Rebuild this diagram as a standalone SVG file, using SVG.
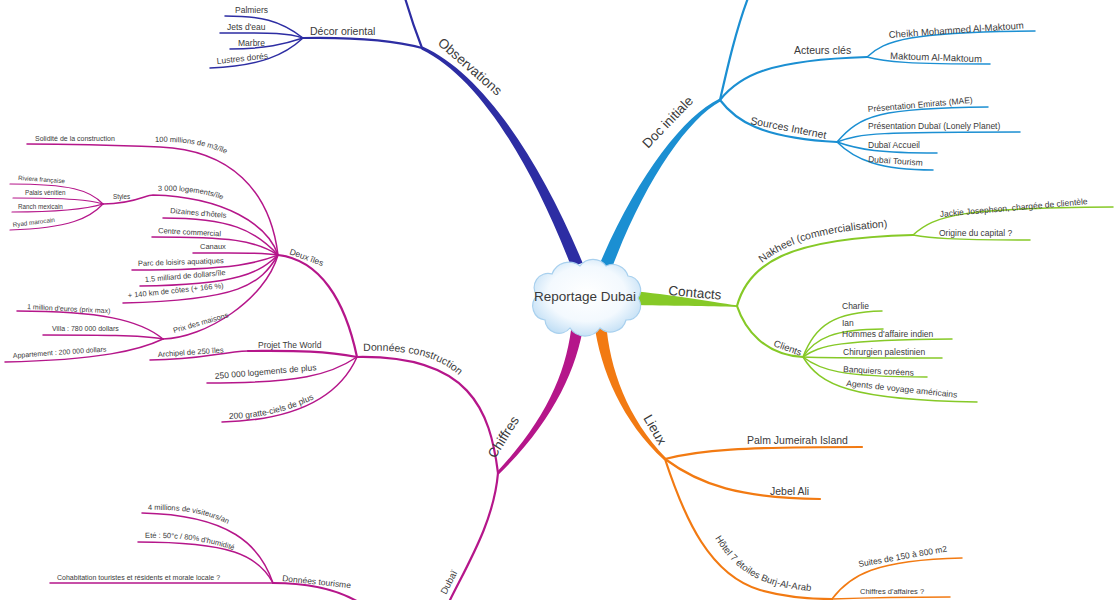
<svg xmlns="http://www.w3.org/2000/svg" xmlns:xlink="http://www.w3.org/1999/xlink" width="1120" height="600" viewBox="0 0 1120 600">
<style>
.ln{fill:none;stroke-linecap:round}
.obs{stroke:#2d2da3}.doc{stroke:#1b8fd2}.con{stroke:#86c927}.lie{stroke:#f27a12}.chi{stroke:#b5168a}
.w2{stroke-width:2.2}.w1{stroke-width:1.5}.w0{stroke-width:1.2}
text{font-family:"Liberation Sans",Arial,sans-serif;fill:#3a3a3a}
.f13{font-size:13.5px}.f11{font-size:10.5px}.f10{font-size:9.5px}.f9{font-size:8.5px}.f8{font-size:7.5px}.f7{font-size:7px}.f6{font-size:6.3px}
</style>
<defs>
<radialGradient id="cloudg" cx="50%" cy="45%" r="60%">
<stop offset="0" stop-color="#ffffff"/>
<stop offset="0.6" stop-color="#f3f9fe"/>
<stop offset="1" stop-color="#bcdcf4"/>
</radialGradient>
<path id="tp-nak" d="M 762,263 C 790,240 830,229 912,226"/>
<path id="tp-hot" d="M 715,538 C 731,565 753,583 793,589 C 808,591 818,592 831,592"/>
<path id="tp-dc" d="M 363,351 C 420,349 450,360 472,390"/>
<path id="tp-200" d="M 229,419 C 260,418 290,412 322,395"/>
<path id="tp-100" d="M 155,142 C 185,141 210,145 237,159"/>
<path id="tp-3000" d="M 158,191 C 185,190 210,193 233,204"/>
<path id="tp-4m" d="M 148,510 C 185,509 210,514 236,528"/>
<path id="tp-ete" d="M 145,538 C 180,537 210,541 241,553"/>
</defs>
<rect width="1120" height="600" fill="#ffffff"/>

<g id="connectors">
<path fill="#2d2da3" d="M 421.4,49.4 C 478.25,76.8 531,162 571.4,267.2 L 582.6,262.8 C 539,158 481.75,73.2 422.6,46.6 Z"/>
<path fill="#1b8fd2" d="M 719.3,98.7 C 683.2,116.2 636,177.9 599,265.6 L 611,270.4 C 644,182.1 686.8,119.8 720.7,101.3 Z"/>
<path fill="#86c927" d="M 630,291 C 670,294 710,302 737,305.3 L 737,307 C 710,306 670,306 630,305 Z"/>
<path fill="#f27a12" d="M 594,322.6 C 600.6,371.1 622.5,421.7 664,460.1 L 666,457.9 C 627.5,418.3 609.4,368.9 606,321.4 Z"/>
<path fill="#b5168a" d="M 572,321.3 C 567.7,368.8 547.6,418.3 496.9,471.9 L 499.1,474.1 C 552.4,421.8 576.3,371.2 584,322.7 Z"/>

<path class="ln obs w2" d="M 422,48 C 415,30 410,15 405,-2"/>
<path class="ln obs w2" d="M 422,48 C 400,42 360,37 303,38"/>
<path class="ln obs w1" d="M 303,38 C 280,20 260,16 225,16"/>
<path class="ln obs w1" d="M 303,38 C 285,32 265,33 220,33"/>
<path class="ln obs w1" d="M 303,38 C 285,44 265,49 230,49"/>
<path class="ln obs w1" d="M 303,38 C 285,55 260,66 210,68"/>

<path class="ln doc w2" d="M 720,100 C 728,65 736,30 748,-2"/>
<path class="ln doc w2" d="M 720,100 C 740,75 770,60 867,57"/>
<path class="ln doc w1" d="M 867,57 C 885,40 910,32 1035,31"/>
<path class="ln doc w1" d="M 867,57 C 885,62 910,64 990,64"/>
<path class="ln doc w2" d="M 720,100 C 735,120 760,138 837,142"/>
<path class="ln doc w1" d="M 837,142 C 860,115 880,108 988,107"/>
<path class="ln doc w1" d="M 837,142 C 860,133 880,132 1020,132"/>
<path class="ln doc w1" d="M 837,142 C 860,150 880,153 937,153"/>
<path class="ln doc w1" d="M 837,142 C 855,160 880,170 933,170"/>

<path class="ln con w2" d="M 737,306 C 748,265 785,238 913,235"/>
<path class="ln con w1" d="M 913,235 C 935,215 960,208 1113,207"/>
<path class="ln con w1" d="M 913,235 C 930,238 950,240 1030,240"/>
<path class="ln con w2" d="M 737,306 C 745,330 765,355 803,357"/>
<path class="ln con w1" d="M 803,357 C 815,325 835,312 882,311"/>
<path class="ln con w1" d="M 803,357 C 815,338 835,329 883,329"/>
<path class="ln con w1" d="M 803,357 C 820,345 840,340 952,339"/>
<path class="ln con w1" d="M 803,357 C 820,358 840,358 942,358"/>
<path class="ln con w1" d="M 803,357 C 820,370 840,377 927,377"/>
<path class="ln con w1" d="M 803,357 C 820,385 850,400 977,402"/>

<path class="ln lie w2" d="M 665,459 C 700,450 740,447 862,447"/>
<path class="ln lie w2" d="M 665,459 C 700,485 740,498 820,499"/>
<path class="ln lie w2" d="M 665,459 C 685,520 710,575 760,590 C 785,597 805,599 832,599"/>
<path class="ln lie w1" d="M 832,599 C 850,575 875,560 962,558"/>
<path class="ln lie w1" d="M 832,599 C 860,598 900,597 950,597"/>

<path class="ln chi w2" d="M 498,473 C 494,520 470,560 450,600"/>
<path class="ln chi w2" d="M 498,473 C 490,410 470,355 357,357"/>
<path class="ln chi w2" d="M 273,583 C 310,583 345,590 370,610"/>
<path class="ln chi w1" d="M 273,583 C 260,545 230,515 142,513"/>
<path class="ln chi w1" d="M 273,583 C 258,555 230,542 138,542"/>
<path class="ln chi w1" d="M 273,583 C 200,583 120,583 50,583"/>
<path class="ln chi w2" d="M 357,357 C 320,350 290,351 248,351"/>
<path class="ln chi w1" d="M 248,351 C 220,352 200,360 150,360"/>
<path class="ln chi w1" d="M 357,357 C 330,375 300,383 207,383"/>
<path class="ln chi w1" d="M 357,357 C 340,395 300,420 222,422"/>
<path class="ln chi w2" d="M 357,357 C 345,300 320,260 278,255"/>
<path class="ln chi w1" d="M 278,255 C 270,190 230,150 160,147 C 110,145 60,144 27,144"/>
<path class="ln chi w1" d="M 278,255 C 268,225 225,197 153,195 C 145,195 135,204 103,204"/>
<path class="ln chi w0" d="M 103,204 C 90,190 70,184 10,184"/>
<path class="ln chi w0" d="M 103,204 C 90,200 70,198 13,198"/>
<path class="ln chi w0" d="M 103,204 C 90,208 70,212 12,212"/>
<path class="ln chi w0" d="M 103,204 C 90,218 70,228 10,230"/>
<path class="ln chi w1" d="M 278,255 C 255,230 230,218 163,218"/>
<path class="ln chi w1" d="M 278,255 C 255,240 230,237 152,237"/>
<path class="ln chi w1" d="M 278,255 C 260,252 240,253 193,253"/>
<path class="ln chi w1" d="M 278,255 C 260,262 240,270 132,270"/>
<path class="ln chi w1" d="M 278,255 C 260,272 240,285 140,286"/>
<path class="ln chi w1" d="M 278,255 C 260,285 240,300 123,303"/>
<path class="ln chi w1" d="M 278,255 C 265,300 205,338 163,339"/>
<path class="ln chi w1" d="M 163,339 C 140,320 100,311 17,311"/>
<path class="ln chi w1" d="M 163,339 C 140,335 100,335 43,335"/>
<path class="ln chi w1" d="M 163,339 C 140,350 100,360 5,362"/>
</g>

<g id="center">
<path fill="url(#cloudg)" stroke="#a8d0ee" stroke-width="1.2" d="M 545,320 a 14,14 0 0 1 -8,-24 a 14,14 0 0 1 15,-22 a 18,18 0 0 1 28,-8 a 16,16 0 0 1 26,0 a 16,16 0 0 1 22,10 a 14,14 0 0 1 10,22 a 14,14 0 0 1 -12,22 a 16,16 0 0 1 -26,8 a 18,18 0 0 1 -30,0 a 14,14 0 0 1 -25,-8 Z"/>
<text class="f13" x="585" y="301" text-anchor="middle">Reportage Dubai</text>
</g>

<g id="observations"><text class="f13" x="437" y="44" transform="rotate(41 437 44)">Observations</text></g>
<g id="decor"><text class="f11" x="310" y="35">Décor oriental</text></g>
<g id="palmiers"><text class="f9" x="235" y="13">Palmiers</text></g>
<g id="jets"><text class="f9" x="227" y="30">Jets d'eau</text></g>
<g id="marbre"><text class="f9" x="238" y="46">Marbre</text></g>
<g id="lustres"><text class="f9" x="217" y="64" transform="rotate(-6 217 64)">Lustres dorés</text></g>

<g id="doc"><text class="f13" x="648" y="149" transform="rotate(-46 648 149)">Doc initiale</text></g>
<g id="acteurs"><text class="f11" x="794" y="54">Acteurs clés</text></g>
<g id="cheikh"><text class="f10" x="889" y="38" transform="rotate(-4 889 38)">Cheikh Mohammed Al-Maktoum</text></g>
<g id="maktoum"><text class="f10" x="890" y="59" transform="rotate(2 890 59)">Maktoum Al-Maktoum</text></g>
<g id="sources"><text class="f11" x="750" y="124" transform="rotate(11 750 124)">Sources Internet</text></g>
<g id="mae"><text class="f9" x="868" y="112" transform="rotate(-5 868 112)">Présentation Emirats (MAE)</text></g>
<g id="lonely"><text class="f9" x="868" y="129">Présentation Dubaï (Lonely Planet)</text></g>
<g id="accueil"><text class="f9" x="868" y="148">Dubaï Accueil</text></g>
<g id="tourism"><text class="f9" x="868" y="162" transform="rotate(4 868 162)">Dubaï Tourism</text></g>

<g id="contacts"><text class="f13" x="668" y="295" transform="rotate(5 668 295)">Contacts</text></g>
<g id="nakheel"><text class="f11"><textPath xlink:href="#tp-nak" href="#tp-nak">Nakheel (commercialisation)</textPath></text></g>
<g id="jackie"><text class="f9" x="940" y="217" transform="rotate(-5 940 217)">Jackie Josephson, chargée de clientèle</text></g>
<g id="origine"><text class="f9" x="939" y="236">Origine du capital ?</text></g>
<g id="clients"><text class="f10" x="773" y="346" transform="rotate(20 773 346)">Clients</text></g>
<g id="charlie"><text class="f9" x="842" y="309">Charlie</text></g>
<g id="ian"><text class="f9" x="842" y="326">Ian</text></g>
<g id="hommes"><text class="f9" x="842" y="337">Hommes d'affaire indien</text></g>
<g id="chirurgien"><text class="f9" x="843" y="355">Chirurgien palestinien</text></g>
<g id="banquiers"><text class="f9" x="843" y="372" transform="rotate(3 843 372)">Banquiers coréens</text></g>
<g id="agents"><text class="f9" x="846" y="386" transform="rotate(6 846 386)">Agents de voyage américains</text></g>

<g id="lieux"><text class="f13" x="643" y="418" transform="rotate(60 643 418)">Lieux</text></g>
<g id="palm"><text class="f11" x="747" y="444">Palm Jumeirah Island</text></g>
<g id="jebel"><text class="f11" x="770" y="495">Jebel Ali</text></g>
<g id="hotel"><text class="f10"><textPath xlink:href="#tp-hot" href="#tp-hot">Hôtel 7 étoiles Burj-Al-Arab</textPath></text></g>
<g id="suites"><text class="f9" x="859" y="567" transform="rotate(-10 859 567)">Suites de 150 à 800 m2</text></g>
<g id="chiffresaff"><text class="f8" x="860" y="594">Chiffres d'affaires ?</text></g>

<g id="chiffres"><text class="f13" x="495" y="459" transform="rotate(-58 495 459)">Chiffres</text></g>
<g id="dubai"><text class="f10" x="446" y="595" transform="rotate(-63 446 595)">Dubaï</text></g>
<g id="tourisme"><text class="f9" x="282" y="581" transform="rotate(6 282 581)">Données tourisme</text></g>
<g id="visiteurs"><text class="f8"><textPath xlink:href="#tp-4m" href="#tp-4m">4 millions de visiteurs/an</textPath></text></g>
<g id="ete"><text class="f8"><textPath xlink:href="#tp-ete" href="#tp-ete">Eté : 50°c / 80% d'humidité</textPath></text></g>
<g id="cohabitation"><text class="f7" x="57" y="580">Cohabitation touristes et résidents et morale locale ?</text></g>
<g id="construction"><text class="f11"><textPath xlink:href="#tp-dc" href="#tp-dc">Données construction</textPath></text></g>
<g id="world"><text class="f9" x="258" y="348">Projet The World</text></g>
<g id="archipel"><text class="f8" x="158" y="357" transform="rotate(-4 158 357)">Archipel de 250 îles</text></g>
<g id="log250"><text class="f9" x="215" y="379" transform="rotate(-5 215 379)">250 000 logements de plus</text></g>
<g id="gratte"><text class="f9"><textPath xlink:href="#tp-200" href="#tp-200">200 gratte-ciels de plus</textPath></text></g>
<g id="deuxiles"><text class="f9" x="289" y="254" transform="rotate(20 289 254)">Deux îles</text></g>
<g id="m3"><text class="f8"><textPath xlink:href="#tp-100" href="#tp-100">100 millions de m3/île</textPath></text></g>
<g id="solidite"><text class="f7" x="35" y="141">Solidité de la construction</text></g>
<g id="log3000"><text class="f8"><textPath xlink:href="#tp-3000" href="#tp-3000">3 000 logements/île</textPath></text></g>
<g id="styles"><text class="f6" x="113" y="199">Styles</text></g>
<g id="riviera"><text class="f6" x="18" y="180" transform="rotate(4 18 180)">Riviera française</text></g>
<g id="palais"><text class="f6" x="25" y="195">Palais vénitien</text></g>
<g id="ranch"><text class="f6" x="18" y="209">Ranch mexicain</text></g>
<g id="ryad"><text class="f6" x="13" y="227" transform="rotate(-7 13 227)">Ryad marocain</text></g>
<g id="dizaines"><text class="f8" x="170" y="213" transform="rotate(5 170 213)">Dizaines d'hôtels</text></g>
<g id="centre"><text class="f8" x="158" y="233" transform="rotate(3 158 233)">Centre commercial</text></g>
<g id="canaux"><text class="f8" x="200" y="249">Canaux</text></g>
<g id="parc"><text class="f8" x="138" y="266" transform="rotate(-2 138 266)">Parc de loisirs aquatiques</text></g>
<g id="milliard"><text class="f8" x="145" y="282" transform="rotate(-5 145 282)">1.5 milliard de dollars/île</text></g>
<g id="cotes"><text class="f8" x="128" y="298" transform="rotate(-6 128 298)">+ 140 km de côtes (+ 166 %)</text></g>
<g id="prix"><text class="f8" x="174" y="333" transform="rotate(-16 174 333)">Prix des maisons</text></g>
<g id="million"><text class="f7" x="27" y="309" transform="rotate(3 27 309)">1 million d'euros (prix max)</text></g>
<g id="villa"><text class="f7" x="52" y="331">Villa : 780 000 dollars</text></g>
<g id="appart"><text class="f7" x="13" y="358" transform="rotate(-4 13 358)">Appartement : 200 000 dollars</text></g>
</svg>
